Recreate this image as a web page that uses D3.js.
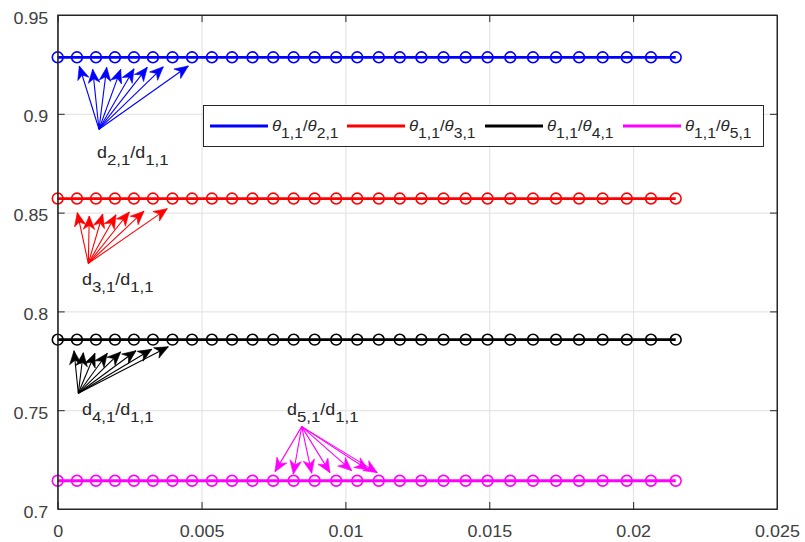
<!DOCTYPE html>
<html><head><meta charset="utf-8">
<script src="https://cdn.jsdelivr.net/npm/d3@7"></script>
<style>
html,body{margin:0;padding:0;background:#fff;}
svg{display:block;}
text{font-family:"Liberation Sans",Arial,Helvetica,sans-serif;}
</style></head><body>
<svg id="chart" width="805" height="542"></svg>
<script>
// ---------------- data ----------------
const xValues = [0, 0.00067, 0.00133, 0.00199, 0.00265, 0.00331, 0.00399, 0.00467, 0.00536, 0.00606,
  0.00677, 0.00749, 0.00820, 0.00893, 0.00968, 0.01041, 0.01116, 0.01189, 0.01264, 0.01341,
  0.01418, 0.01494, 0.01573, 0.01652, 0.01732, 0.01812, 0.01894, 0.01978, 0.02062, 0.02148];

const seriesBlue = [0.9286,0.9286,0.9286,0.9286,0.9286,0.9286,0.9286,0.9286,0.9286,0.9286,
  0.9286,0.9286,0.9286,0.9286,0.9286,0.9286,0.9286,0.9286,0.9286,0.9286,
  0.9286,0.9286,0.9286,0.9286,0.9286,0.9286,0.9286,0.9286,0.9286,0.9286];
const seriesRed = [0.8571,0.8571,0.8571,0.8571,0.8571,0.8571,0.8571,0.8571,0.8571,0.8571,
  0.8571,0.8571,0.8571,0.8571,0.8571,0.8571,0.8571,0.8571,0.8571,0.8571,
  0.8571,0.8571,0.8571,0.8571,0.8571,0.8571,0.8571,0.8571,0.8571,0.8571];
const seriesBlack = [0.7857,0.7857,0.7857,0.7857,0.7857,0.7857,0.7857,0.7857,0.7857,0.7857,
  0.7857,0.7857,0.7857,0.7857,0.7857,0.7857,0.7857,0.7857,0.7857,0.7857,
  0.7857,0.7857,0.7857,0.7857,0.7857,0.7857,0.7857,0.7857,0.7857,0.7857];
const seriesMagenta = [0.7143,0.7143,0.7143,0.7143,0.7143,0.7143,0.7143,0.7143,0.7143,0.7143,
  0.7143,0.7143,0.7143,0.7143,0.7143,0.7143,0.7143,0.7143,0.7143,0.7143,
  0.7143,0.7143,0.7143,0.7143,0.7143,0.7143,0.7143,0.7143,0.7143,0.7143];

const seriesColors = ["#0000ff", "#ff0000", "#000000", "#ff00ff"];
const legendSubsA = ["1,1", "1,1", "1,1", "1,1"];
const legendSubsB = ["2,1", "3,1", "4,1", "5,1"];

const xTicks = [0, 0.005, 0.01, 0.015, 0.02, 0.025];
const xTickLabels = ["0", "0.005", "0.01", "0.015", "0.02", "0.025"];
const yTicks = [0.7, 0.75, 0.8, 0.85, 0.9, 0.95];
const yTickLabels = ["0.7", "0.75", "0.8", "0.85", "0.9", "0.95"];

// annotation arrows (data coordinates): origin and tips
const arrowOriginX = [0.001435, 0.001064, 0.000716, 0.008480];
const arrowOriginY = [0.8922, 0.8243, 0.7586, 0.7417];
const arrowTipsXBlue = [0.000751, 0.001216, 0.001703, 0.002190, 0.002652, 0.003114, 0.003670, 0.004539];
const arrowTipsYBlue = [0.9242, 0.9225, 0.9235, 0.9225, 0.9228, 0.9235, 0.9238, 0.9242];
const arrowTipsXRed = [0.000681, 0.001098, 0.001564, 0.002026, 0.002488, 0.002999, 0.003808];
const arrowTipsYRed = [0.8500, 0.8483, 0.8493, 0.8489, 0.8503, 0.8507, 0.8520];
const arrowTipsXBlack = [0.000567, 0.000890, 0.001296, 0.001724, 0.002190, 0.002721, 0.003267, 0.003844];
const arrowTipsYBlack = [0.7801, 0.7791, 0.7788, 0.7788, 0.7795, 0.7801, 0.7808, 0.7821];
const arrowTipsXMagenta = [0.007553, 0.008189, 0.008828, 0.009464, 0.010218, 0.010795, 0.011108];
const arrowTipsYMagenta = [0.7189, 0.7177, 0.7181, 0.7184, 0.7194, 0.7197, 0.7184];
const arrowLabelSubs = ["2,1", "3,1", "4,1", "5,1"];

// ---------------- drawing ----------------
const svg = d3.select("#chart");
const L = 57.7, R = 777, T = 15, B = 509;
const x = d3.scaleLinear().domain([0, 0.025]).range([L, R]);
const y = d3.scaleLinear().domain([0.7, 0.95]).range([B, T]);
const STRETCH = 1.12;
const axisColor = "#262626", labelColor = "#404040";

// grid
svg.append("g").attr("transform", `translate(0,${B})`)
  .call(d3.axisBottom(x).tickValues(xTicks).tickSize(-(B - T)).tickFormat(""))
  .call(g => g.select(".domain").remove())
  .call(g => g.selectAll("line").attr("stroke", "#e0e0e0").attr("stroke-width", 1));
svg.append("g").attr("transform", `translate(${L},0)`)
  .call(d3.axisLeft(y).tickValues(yTicks).tickSize(-(R - L)).tickFormat(""))
  .call(g => g.select(".domain").remove())
  .call(g => g.selectAll("line").attr("stroke", "#e0e0e0").attr("stroke-width", 1));

// defs: arrow markers
const defs = svg.append("defs");
seriesColors.forEach((c, i) => {
  defs.append("marker").attr("id", "ah" + i)
    .attr("viewBox", "-15 -7 16 14").attr("refX", 0).attr("refY", 0)
    .attr("markerWidth", 16).attr("markerHeight", 14)
    .attr("markerUnits", "userSpaceOnUse").attr("orient", "auto")
    .append("path").attr("d", "M0,0 L-13.5,-5.8 L-9.5,0 L-13.5,5.8 Z").attr("fill", c)
    .attr("stroke", c).attr("stroke-width", 0.6).attr("stroke-linejoin", "miter");
});

// series
const allSeries = [seriesBlue, seriesRed, seriesBlack, seriesMagenta];
const line = d3.line().x(d => x(d[0])).y(d => y(d[1]));
allSeries.forEach((vals, i) => {
  const pts = xValues.map((xv, j) => [xv, vals[j]]);
  const g = svg.append("g");
  g.append("path").attr("d", line(pts)).attr("fill", "none")
    .attr("stroke", seriesColors[i]).attr("stroke-width", 2.8);
  g.selectAll("circle").data(pts).join("circle")
    .attr("cx", d => x(d[0])).attr("cy", d => y(d[1])).attr("r", 5.4)
    .attr("fill", "none").attr("stroke", seriesColors[i]).attr("stroke-width", 1.6);
});

// helper: text with subscripts, stretched horizontally
function subText(parent, px, py, parts, color, size, subSize) {
  const g = parent.append("g").attr("transform", `translate(${px},${py}) scale(${STRETCH},1)`);
  const t = g.append("text").attr("x", 0).attr("y", 0).attr("fill", color)
    .attr("font-size", size);
  let shifted = false;
  parts.forEach(p => {
    const ts = t.append("tspan").text(p.t);
    if (p.sub && !shifted) { ts.attr("dy", 7); shifted = true; }
    else if (!p.sub && shifted) { ts.attr("dy", -7); shifted = false; }
    if (p.sub) ts.attr("font-size", subSize);
    if (p.it) ts.attr("font-style", "italic");
  });
  return g;
}

// arrows
const tipsX = [arrowTipsXBlue, arrowTipsXRed, arrowTipsXBlack, arrowTipsXMagenta];
const tipsY = [arrowTipsYBlue, arrowTipsYRed, arrowTipsYBlack, arrowTipsYMagenta];
tipsX.forEach((tx, i) => {
  const g = svg.append("g");
  tx.forEach((xv, j) => {
    g.append("line")
      .attr("x1", x(arrowOriginX[i])).attr("y1", y(arrowOriginY[i]))
      .attr("x2", x(xv)).attr("y2", y(tipsY[i][j]))
      .attr("stroke", seriesColors[i]).attr("stroke-width", 1.1)
      .attr("marker-end", `url(#ah${i})`);
  });
});

// arrow labels
const labelPos = [[97, 158], [82, 285], [82, 415], [287, 415]];
arrowLabelSubs.forEach((s, i) => {
  subText(svg, labelPos[i][0], labelPos[i][1],
    [{t: "d"}, {t: s, sub: true}, {t: "/d"}, {t: "1,1", sub: true}],
    "#262626", 16, 15);
});

// axes with inward ticks
const tickLen = 7;
const xAxisG = svg.append("g").attr("transform", `translate(0,${B})`)
  .call(d3.axisBottom(x).tickValues(xTicks).tickSizeInner(-tickLen).tickSizeOuter(0)
    .tickPadding(0).tickFormat((d, i) => xTickLabels[i]));
xAxisG.selectAll("text").attr("y", 28).attr("dy", 0)
  .attr("transform", `scale(${STRETCH},1)`);
svg.append("g").attr("transform", `translate(0,${T})`)
  .call(d3.axisTop(x).tickValues(xTicks).tickSizeInner(-tickLen).tickSizeOuter(0).tickFormat(""));
const yAxisG = svg.append("g").attr("transform", `translate(${L},0)`)
  .call(d3.axisLeft(y).tickValues(yTicks).tickSizeInner(-tickLen).tickSizeOuter(0)
    .tickPadding(0).tickFormat((d, i) => yTickLabels[i]));
yAxisG.selectAll("text").attr("x", -8.4).attr("dy", 0).attr("y", 8)
  .attr("transform", `scale(${STRETCH},1)`);
svg.append("g").attr("transform", `translate(${R},0)`)
  .call(d3.axisRight(y).tickValues(yTicks).tickSizeInner(-tickLen).tickSizeOuter(0).tickFormat(""));
svg.selectAll(".tick line").filter(function(){ return d3.select(this).attr("stroke") !== "#e0e0e0"; })
  .attr("stroke", axisColor);
[xAxisG, yAxisG].forEach(g => g.selectAll("text")
  .attr("fill", labelColor).attr("font-size", 16)
  .attr("font-family", '"Liberation Sans",Arial,sans-serif'));
svg.selectAll(".domain").attr("stroke", axisColor);

// frame
svg.append("rect").attr("x", L).attr("y", T).attr("width", R - L).attr("height", B - T)
  .attr("fill", "none").attr("stroke", axisColor).attr("stroke-width", 1);

// legend
const lg = svg.append("g");
lg.append("rect").attr("x", 203.5).attr("y", 105.5).attr("width", 560).attr("height", 41)
  .attr("fill", "#fff").attr("stroke", axisColor).attr("stroke-width", 1);
const legLineX = [210, 347, 485, 623];
seriesColors.forEach((c, i) => {
  lg.append("line").attr("x1", legLineX[i]).attr("x2", legLineX[i] + 58)
    .attr("y1", 126).attr("y2", 126).attr("stroke", c).attr("stroke-width", 3);
  subText(lg, legLineX[i] + 62, 131,
    [{t: "θ", it: true}, {t: legendSubsA[i], sub: true}, {t: "/"}, {t: "θ", it: true}, {t: legendSubsB[i], sub: true}],
    "#262626", 15, 14);
});
</script>
</body></html>
